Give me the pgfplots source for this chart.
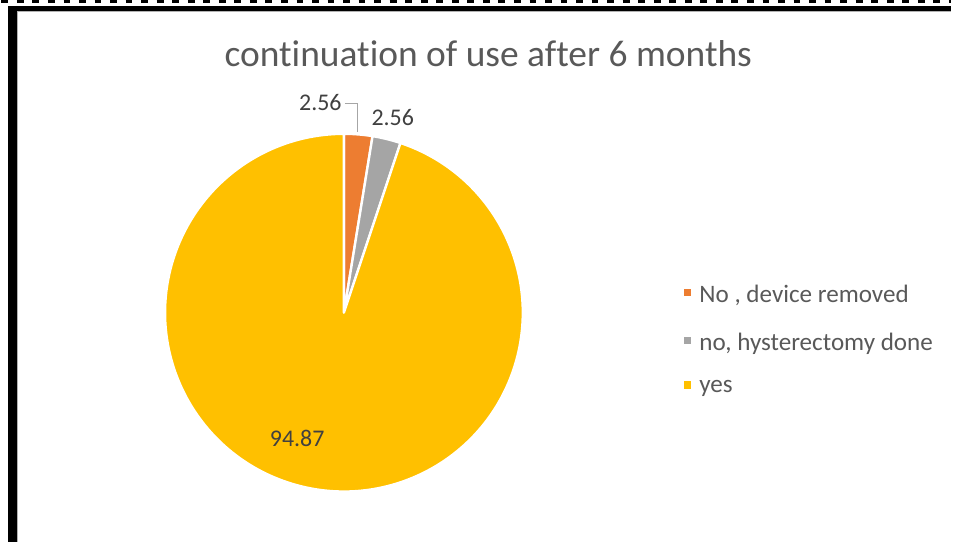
\documentclass[border=0pt]{standalone}
\usepackage{pgfplots}
\usepackage{pgfplotstable}
\pgfplotsset{compat=1.18}
\usepackage{fontspec}
\setmainfont{Carlito}[Ligatures={NoCommon,NoContextual}]
\definecolor{sliceA}{HTML}{ED7D31}
\definecolor{sliceB}{HTML}{A5A5A5}
\definecolor{sliceC}{HTML}{FFC000}
\definecolor{titlegray}{HTML}{595959}
\definecolor{labelgray}{HTML}{404040}
\definecolor{leadergray}{HTML}{A6A6A6}

\pgfplotstableread{
label value
A 2.56
B 2.56
C 94.87
}\piedata

\begin{document}
\begin{tikzpicture}
\begin{axis}[
  scale only axis, width=477pt, height=272pt,
  xmin=0, xmax=954, ymin=0, ymax=544,
  hide axis, clip=false,
  legend style={at={(axis cs:685,262)}, anchor=north west, draw=none, fill=none,
    font=\fontsize{12.6}{15}\selectfont, text=titlegray, row sep=9.6pt,
    inner sep=0pt, cells={anchor=west}},
  legend cell align=left,
]
% frame
\draw[black, line width=1.4pt, dash pattern=on 3.4pt off 4.4pt] (axis cs:0,542.6) -- (axis cs:954,542.6);
\draw[black!30, line width=0.5pt] (axis cs:16.5,0) -- (axis cs:16.5,532.5) -- (axis cs:954,532.5);
\draw[black, line width=2.7pt] (axis cs:7,535.3) -- (axis cs:954,535.3);
\draw[black, line width=4.5pt] (axis cs:11.5,538) -- (axis cs:11.5,0);

% pie slices
\gdef\total{0}
\pgfplotsinvokeforeach{0,1,2}{
  \pgfplotstablegetelem{#1}{value}\of\piedata
  \pgfmathsetmacro\newtotal{\total+\pgfplotsretval}
  \global\let\total\newtotal
}
\gdef\curangle{90}
\pgfplotsinvokeforeach{0,1,2}{
  \pgfplotstablegetelem{#1}{value}\of\piedata
  \pgfmathsetmacro\endangle{\curangle-(\pgfplotsretval/\total)*360}
  \ifcase#1 \def\slicecol{sliceA}\or \def\slicecol{sliceB}\else \def\slicecol{sliceC}\fi
  \edef\temp{\noexpand\filldraw[fill=\slicecol, draw=white, line width=1.2pt, line join=round]
     (axis cs:344,230) -- ++(\curangle:89.8pt) arc[start angle=\curangle, end angle=\endangle, radius=89.8pt] -- cycle;}
  \temp
  \global\let\curangle\endangle
}

% leader line and labels
\draw[leadergray, line width=0.6pt] (axis cs:345,440) -- (axis cs:358,440) -- (axis cs:358,411);
\node[text=labelgray, font=\fontsize{12}{14}\selectfont, anchor=east, inner sep=0pt] at (axis cs:342,441) {2.56};
\node[text=labelgray, font=\fontsize{12}{14}\selectfont, inner sep=0pt] at (axis cs:393,426) {2.56};
\node[text=labelgray, font=\fontsize{12}{14}\selectfont, inner sep=0pt] at (axis cs:297,104) {94.87};

% title
\node[text=titlegray, font=\fontsize{18.8}{22}\selectfont] at (axis cs:489,490) {continuation of use after 6 months};

% legend
\addlegendimage{legend image code/.code={\fill[sliceA] (0pt,-0.2pt) rectangle (3.2pt,3pt); \path[draw=none,fill=none] (5.6pt,0pt);}}
\addlegendentry{No , device removed}
\addlegendimage{legend image code/.code={\fill[sliceB] (0pt,-0.2pt) rectangle (3.2pt,3pt); \path[draw=none,fill=none] (5.6pt,0pt);}}
\addlegendentry{no, hysterectomy done}
\addlegendimage{legend image code/.code={\fill[sliceC] (0pt,-0.2pt) rectangle (3.2pt,3pt); \path[draw=none,fill=none] (5.6pt,0pt);}}
\addlegendentry{yes}
\end{axis}
\end{tikzpicture}
\end{document}
